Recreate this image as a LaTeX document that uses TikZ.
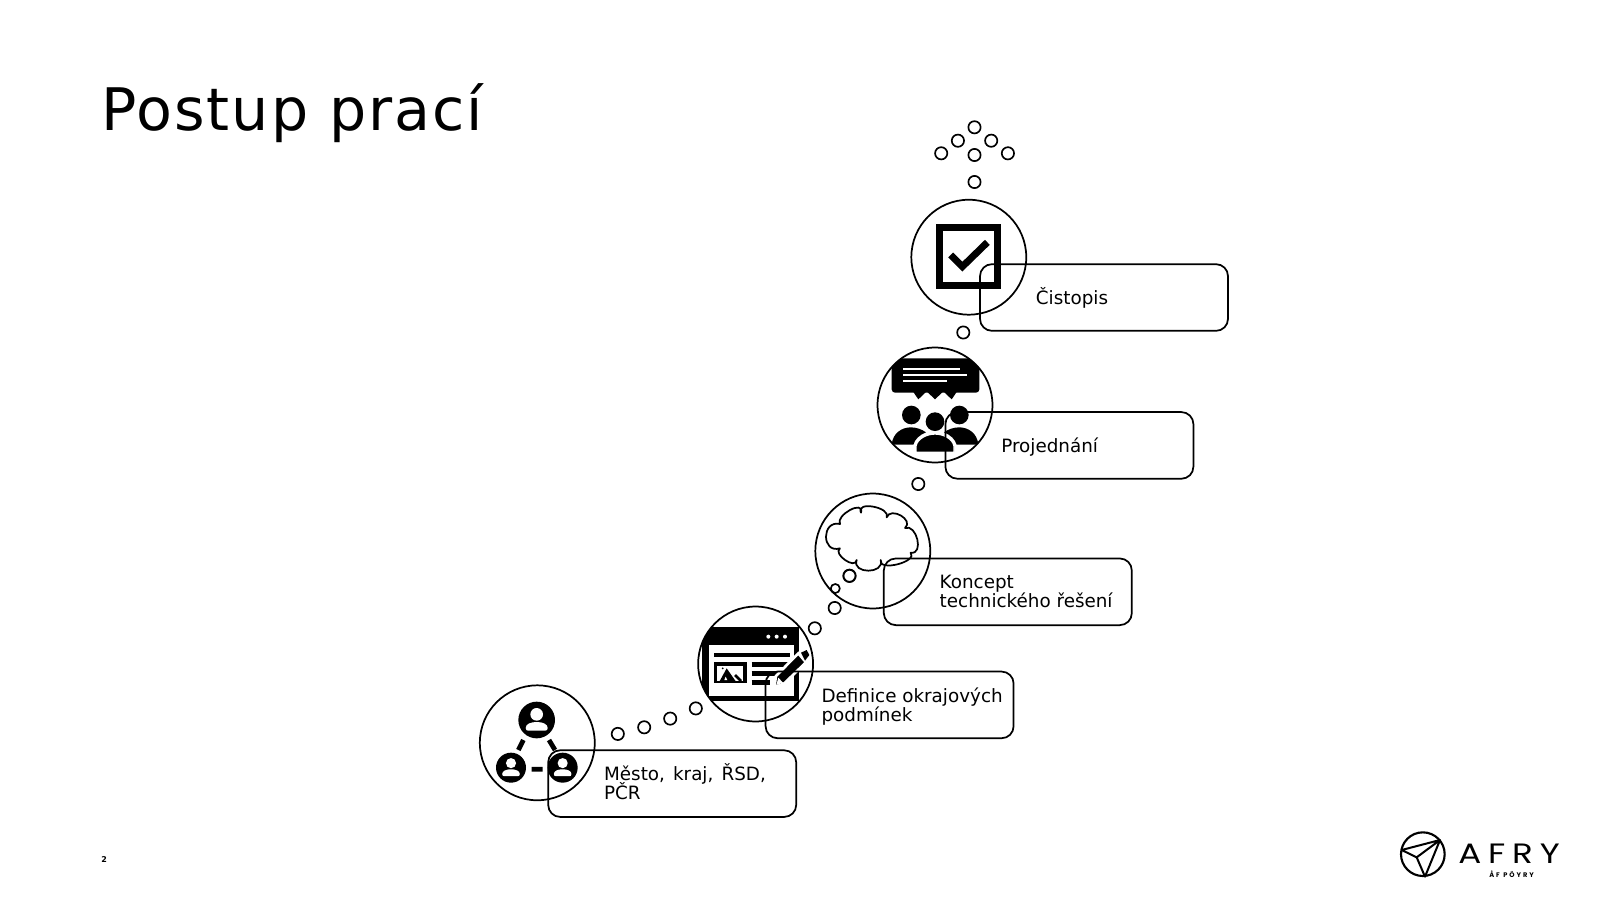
\documentclass[tikz,border=0pt]{standalone}
\usepackage{fontspec}
\setmainfont{DejaVu Sans}
\newfontfamily\logofont{Poppins}
\lineskiplimit=-8pt
\normallineskiplimit=-8pt
\tikzset{
  x=0.75pt,y=-0.75pt,
  stepcircle/.style={circle,draw=black,line width=1.3pt,minimum size=86.2pt,inner sep=0pt},
  labelbox/.style={rectangle,rounded corners=9pt,draw=black,line width=1.3pt,minimum width=186pt,minimum height=50pt,inner sep=0pt},
  steptext/.style={anchor=west,align=left,inner sep=0pt,font=\fontsize{13.75}{14.5}\selectfont},
  bead/.style={circle,draw=black,line width=1.25pt,minimum size=9.2pt,inner sep=0pt},
  zoomA/.style={shift={(460,590)},x=0.25pt,y=-0.25pt},
  zoomB/.style={shift={(790,330)},x=0.25pt,y=-0.25pt},
  zoomC/.style={shift={(880,110)},x=0.25pt,y=-0.25pt},
  zoomD/.style={shift={(690,600)},x=0.25pt,y=-0.25pt},
  zoomE/.style={shift={(870,340)},x=0.25pt,y=-0.25pt},
  zoomF/.style={shift={(1390,825)},x=0.25pt,y=-0.25pt},
}
\newcommand{\personglyph}{%
  \fill[white] (0,-17) circle[radius=19];
  \fill[white] (-33,24) .. controls (-33,12) and (-18,6) .. (0,6) .. controls (18,6) and (33,12) .. (33,24) .. controls (33,30) and (30,32) .. (25,32) -- (-25,32) .. controls (-30,32) and (-33,30) .. (-33,24) -- cycle;
}
\begin{document}
\begin{tikzpicture}
\useasboundingbox (0,0) rectangle (1600,900);
\fill[white] (0,0) rectangle (1600,900);

\node[anchor=base west,inner sep=0pt,font=\fontsize{44}{50}\selectfont] (title) at (101,130) {\addfontfeatures{LetterSpace=3.4}Postup prací};
\node[anchor=base west,inner sep=0pt,font=\fontsize{6}{7}\selectfont\bfseries] (page) at (101,862) {2};

% icon 1: people network
\begin{scope}[zoomA]
  \fill (230,390) circle[radius=55];
  \fill (153,533) circle[radius=45];
  \fill (308,533) circle[radius=45];
  \draw[line width=3.6pt] (190,450) -- (175,480) (267,450) -- (285,480) (215,538) -- (248,538);
  \begin{scope}[shift={(230,390)}]\personglyph\end{scope}
  \begin{scope}[shift={(153,533)},scale=.8]\personglyph\end{scope}
  \begin{scope}[shift={(308,533)},scale=.8]\personglyph\end{scope}
\end{scope}

% icon 2: web page and pencil
\begin{scope}
\clip (755.6,664) circle[radius=57.5];
\begin{scope}[zoomD]
  \fill (35,82) rectangle (327,302);
  \fill[white] (58,135) rectangle (312,288);
  \foreach \d in {235,260,285}{\fill[white] (\d,110) circle[radius=6];}
  \draw[line width=3.4pt] (72,165) -- (300,165) (185,193) -- (300,193) (185,220) -- (300,220) (185,248) -- (240,248);
  \fill (72,187) rectangle (170,250);
  \fill[white] (82,197) rectangle (160,243);
  \fill (88,245) -- (110,205) -- (138,245) -- cycle;
  \fill[white] (103,240) -- (107,230) -- (112,240) -- cycle;
  \draw[line width=2pt] (135,225) -- (153,243);
  \fill (98,205) circle[radius=3];
  \fill[draw=white,line width=2pt] (253,262) -- (258,228) -- (325,160) -- (348,187) -- (283,250) -- cycle;
  \fill[white] (259,255) -- (265,233) -- (279,248) -- cycle;
  \fill (333,158) -- (350,150) -- (358,165) -- (345,182) -- cycle;
\end{scope}
\end{scope}

% icon 3: cloud
\begin{scope}[zoomB]
  \draw[line width=1.3pt,line join=round] (150,582)
    .. controls (135.4,555.5) and (223.6,507.9) .. (213,548)
    .. controls (195.6,511.9) and (303.4,531.5) .. (290,562)
    .. controls (302.3,528.9) and (373,570) .. (345,594)
    .. controls (380,580) and (403,675) .. (362,668)
    .. controls (385,695) and (264.7,726.4) .. (272,690)
    .. controls (285.1,732.7) and (184.3,732.7) .. (200,690)
    .. controls (196.7,720.3) and (126.7,671.3) .. (150,655)
    .. controls (94,671.6) and (94,569.4) .. (150,582) -- cycle;
\end{scope}

% icon 4: meeting
\begin{scope}
\clip (935,405) circle[radius=57.5];
\begin{scope}[zoomE]
  \fill[rounded corners=2.5pt] (65,55) rectangle (328,158);
  \fill (130,156) -- (145,178) -- (168,156) -- cycle;
  \fill (172,156) -- (195,178) -- (218,156) -- cycle;
  \fill (222,156) -- (245,178) -- (260,156) -- cycle;
  \draw[white,line width=1.3pt] (100,88) -- (270,88) (100,105) -- (290,105) (100,123) -- (232,123);
  \fill (124,225) circle[radius=28];
  \fill (268,225) circle[radius=28];
  \fill (65,314) .. controls (68,280) and (95,262) .. (122,262) .. controls (140,262) and (155,268) .. (168,277) .. controls (148,285) and (135,297) .. (130,314) -- cycle;
  \fill (325,314) .. controls (322,280) and (295,262) .. (268,262) .. controls (250,262) and (235,268) .. (222,277) .. controls (242,285) and (255,297) .. (260,314) -- cycle;
  \fill (195,245) circle[radius=28];
  \fill[draw=white,line width=1pt] (138,337) -- (138,318) .. controls (142,296) and (170,282) .. (195,282) .. controls (220,282) and (248,296) .. (252,318) -- (252,337) -- cycle;
\end{scope}
\end{scope}

% icon 5: check box
\begin{scope}[zoomC]
  \draw[line width=5pt] (179,352) rectangle (353,526);
  \draw[line width=5.2pt] (212,435) -- (247,470) -- (322,397);
\end{scope}

\node[stepcircle] (c1) at (537.3,742.8) {};
\node[stepcircle] (c2) at (755.6,664) {};
\node[stepcircle] (c3) at (872.8,551) {};
\node[stepcircle] (c4) at (935,405) {};
\node[stepcircle] (c5) at (968.8,257.2) {};

\node[labelbox] (b1) at (672.2,783.6) {};
\node[labelbox] (b2) at (889.6,704.9) {};
\node[labelbox] (b3) at (1007.8,591.8) {};
\node[labelbox] (b4) at (1069.4,445.4) {};
\node[labelbox] (b5) at (1104,297.5) {};

\node[steptext] (t1) at ([xshift=42.4pt,yshift=1.2pt]b1.west) {Město,\hspace{1.7pt} kraj,\hspace{1.7pt} ŘSD,\\PČR};
\node[steptext] (t2) at ([xshift=42.4pt,yshift=-1.4pt]b2.west) {Definice okrajových\\podmínek};
\node[steptext] (t3) at ([xshift=42.4pt,yshift=.3pt]b3.west) {Koncept\\technického řešení};
\node[steptext] (t4) at ([xshift=42.4pt,yshift=-1.4pt]b4.west) {Projednání};
\node[steptext] (t5) at ([xshift=42.4pt,yshift=-.2pt]b5.west) {Čistopis};

% beads
\node[bead] (d1) at (617.8,733.9) {};
\node[bead] (d2) at (644.2,727.3) {};
\node[bead] (d3) at (670.2,718.6) {};
\node[bead] (d4) at (695.8,708.4) {};
\node[bead] (d5) at (814.8,628.3) {};
\node[bead] (d6) at (834.7,608) {};
\node[bead,minimum size=6.8pt] (d7) at (835.3,588.5) {};
\node[bead,line width=1.5pt] (d8) at (849.5,575.8) {};
\node[bead] (d9) at (918.3,484) {};
\node[bead] (d10) at (963.3,332.5) {};
\node[bead] (d11) at (974.5,182) {};
\node[bead] (d12) at (974.5,155) {};
\node[bead] (d13) at (941.2,153.3) {};
\node[bead] (d14) at (1007.9,153.3) {};
\node[bead] (d15) at (957.9,140.7) {};
\node[bead] (d16) at (991.2,140.7) {};
\node[bead] (d17) at (974.5,127.3) {};

% logo
\begin{scope}[zoomF]
  \draw[line width=1.6pt] (98.5,87.5) circle[radius=65.5];
  \draw[line width=1.5pt,line join=round] (35,75) -- (150,45) -- (80,97) -- (35,75) (150,45) -- (105,155) -- (80,97);
\end{scope}
\node[anchor=base west,inner sep=0pt,font=\logofont\fontsize{21}{24}\selectfont] (afry) at (1458,863.5) {\scalebox{1.22}[1]{\addfontfeatures{LetterSpace=20}AFRY}};
\node[anchor=base west,inner sep=0pt,font=\logofont\bfseries\fontsize{5}{6}\selectfont] (af) at (1489,877.5) {\addfontfeatures{LetterSpace=30}ÅF PÖYRY};
\end{tikzpicture}
\end{document}
